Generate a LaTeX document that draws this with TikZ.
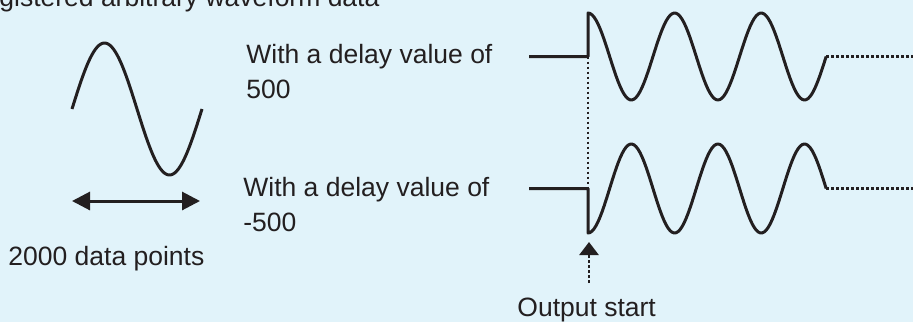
\documentclass[tikz,border=0pt]{standalone}
\usepackage{fontspec}
\setmainfont{Liberation Sans}
\usepackage{xcolor}
\definecolor{bgc}{HTML}{E1F3FA}
\definecolor{ink}{HTML}{231F20}
\usetikzlibrary{arrows.meta}
\tikzset{
  wave/.style={draw=ink,line width=1.5pt,line join=round},
  dotline/.style={draw=ink,line width=1.4pt,dash pattern=on 1.4pt off 1.1pt},
  lab/.style={font=\fontsize{13.25}{17.5}\selectfont,text=ink,inner sep=0pt,anchor=base west,align=left},
  span/.style={{Triangle[length=9pt,width=9pt]}-{Triangle[length=9pt,width=9pt]},draw=ink,line width=1.5pt},
  mark up/.style={-{Triangle[length=6.5pt,width=9.5pt]}},
}
\begin{document}
\begin{tikzpicture}[x=0.5pt,y=-0.5pt]
\fill[bgc] (0,0) rectangle (913,322);
\useasboundingbox (0,0) rectangle (913,322);
% title, cut at the top
\node[lab] (title) at (-1,6) {gistered arbitrary waveform data};
% one period of the data
\draw[wave] plot[domain=0:360,samples=73] ({72+0.36111*\x},{109-66*sin(\x)});
\coordinate (spanL) at (72,201);
\coordinate (spanR) at (200,201);
\draw[span] (spanL) -- (spanR);
\node[lab] (npts) at (8,265) {2000 data points};
% delay 500
\node[lab] (dlyA) at (246,98) {With a delay value of\\500};
\coordinate (aL) at (529,56.5);
\coordinate (aS) at (588,56.5);
\coordinate (aE) at (826,56.5);
\coordinate (aR) at (913,56.5);
\draw[wave] (aL) -- (aS) -- ++(0,-43.5) -- plot[domain=0:990,samples=120] ({588+0.24056*\x},{56.5-43.5*cos(\x)});
\draw[dotline] (aE) -- (aR);
% delay -500
\node[lab] (dlyB) at (243,231) {With a delay value of\\-500};
\coordinate (bL) at (529,188.5);
\coordinate (bS) at (588,188.5);
\coordinate (bE) at (826,188.5);
\coordinate (bR) at (913,188.5);
\draw[wave] (bL) -- (bS) -- ++(0,44.5) -- plot[domain=0:990,samples=120] ({588+0.24056*\x},{188.5+44.5*cos(\x)});
\draw[dotline] (bE) -- (bR);
\draw[dotline] (aS) -- (bS);
% output start
\coordinate (tip) at (589,242);
\coordinate (tail) at (589,283);
\draw[dotline,mark up] (tail) -- (tip);
\node[lab] (start) at (517,316) {Output start};
\end{tikzpicture}
\end{document}
